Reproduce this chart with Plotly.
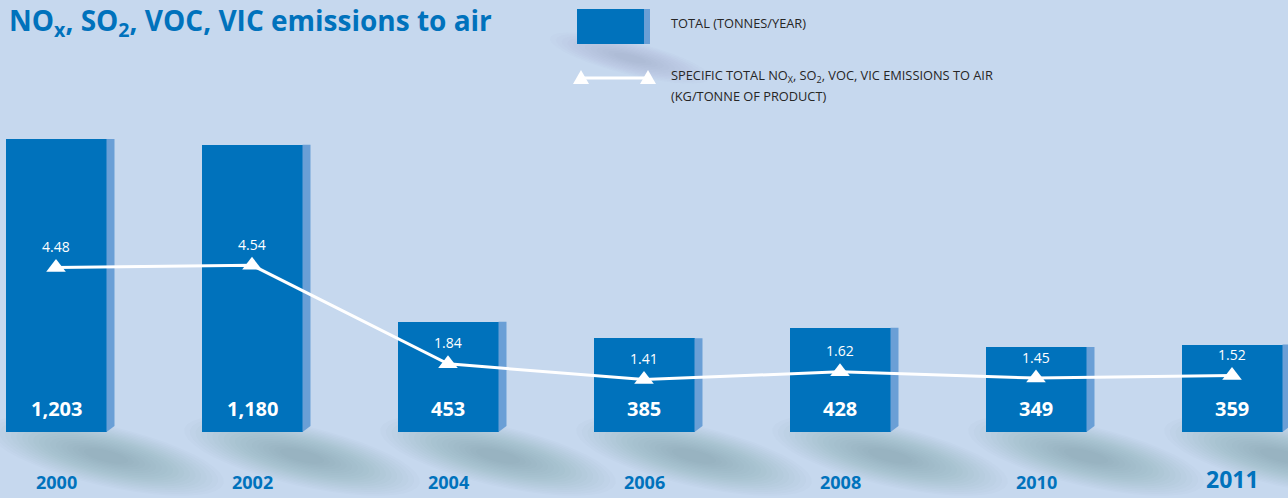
import math
import plotly.graph_objects as go

years = ['2000', '2002', '2004', '2006', '2008', '2010', '2011']
total_tonnes = [1203, 1180, 453, 385, 428, 349, 359]
specific_kg = [4.48, 4.54, 1.84, 1.41, 1.62, 1.45, 1.52]

W, H = 1288, 498
BG = '#c6d8ee'
BLUE = '#0072bc'
SIDE = '#6a9fd6'
SHADOW = '#5f6e86'
FONT = 'Open Sans'

xs = list(range(len(years)))
step = 196          # px between bar centres
x0px = 56           # px of first bar centre
base_px = 432       # px of the bars' baseline
bar_w = 101 / step
side_w = 8 / step


def ellipse_path(cx, cy, a, b, ang):
    # rotated ellipse in pixel space -> paper coords
    pts = []
    for k in range(40):
        t = 2 * math.pi * k / 40
        ex, ey = a * math.cos(t), b * math.sin(t)
        x = cx + ex * math.cos(ang) - ey * math.sin(ang)
        y = cy + ex * math.sin(ang) + ey * math.cos(ang)
        pts.append(f'{x / W:.5f},{1 - y / H:.5f}')
    return 'M ' + ' L '.join(pts) + ' Z'


fig = go.Figure()

shapes = []
# soft shadows under bars
for i in xs:
    cx = x0px + step * i + 50
    for k in range(18):
        s = 1.15 - k * 0.055
        shapes.append(dict(type='path', xref='paper', yref='paper', layer='below',
                           path=ellipse_path(cx, base_px + 24, 105 * s, 26 * s, math.radians(13)),
                           fillcolor=SHADOW, opacity=0.024, line_width=0))
# legend shadow
for k in range(12):
    s = 1.1 - k * 0.08
    shapes.append(dict(type='path', xref='paper', yref='paper', layer='below',
                       path=ellipse_path(630, 58, 75 * s, 15 * s, math.radians(14)),
                       fillcolor=SHADOW, opacity=0.018, line_width=0))

# legend box + side
shapes.append(dict(type='rect', xref='paper', yref='paper', x0=577 / W, x1=644 / W,
                   y0=1 - 44 / H, y1=1 - 9 / H, fillcolor=BLUE, line_width=0))
shapes.append(dict(type='rect', xref='paper', yref='paper', x0=644 / W, x1=650 / W,
                   y0=1 - 44 / H, y1=1 - 9 / H, fillcolor=SIDE, line_width=0))
# legend line with triangles
shapes.append(dict(type='line', xref='paper', yref='paper', x0=582 / W, x1=647 / W,
                   y0=1 - 78 / H, y1=1 - 78 / H, line=dict(color='white', width=3)))
for tx in [581, 648]:
    shapes.append(dict(type='path', xref='paper', yref='paper', fillcolor='white', line_width=0,
                       path=f'M {(tx - 8) / W},{1 - 84 / H} L {(tx + 8) / W},{1 - 84 / H} L {tx / W},{1 - 70 / H} Z'))

# bar front faces
fig.add_trace(go.Bar(x=xs, y=total_tonnes, width=bar_w, marker=dict(color=BLUE, line_width=0),
                     showlegend=False, hoverinfo='skip'))

# bar side faces
sx, sy = [], []
for i, v in zip(xs, total_tonnes):
    a = i + bar_w / 2
    b = a + side_w
    sx += [a, b, b, a, a, None]
    sy += [v, v, 25, 0, v, None]
fig.add_trace(go.Scatter(x=sx, y=sy, fill='toself', fillcolor=SIDE, mode='none',
                         showlegend=False, hoverinfo='skip'))

# specific emissions line
fig.add_trace(go.Scatter(x=xs, y=specific_kg, yaxis='y2', mode='lines+markers',
                         line=dict(color='white', width=3),
                         marker=dict(symbol='triangle-up', size=17, color='white'),
                         showlegend=False, hoverinfo='skip'))

ann = []
for i, v, t, yr in zip(xs, specific_kg, total_tonnes, years):
    ann.append(dict(x=i, y=v, xref='x', yref='y2', yshift=21, text=f'{v:.2f}', showarrow=False,
                    font=dict(family=FONT, size=14, color='white')))
    ann.append(dict(x=i, y=95, xref='x', yref='y', text=f'<b>{t:,}</b>', showarrow=False,
                    font=dict(family=FONT, size=20, color='white')))
    big = yr == '2011'
    ann.append(dict(x=i, y=-205 if not big else -195, xref='x', yref='y', text=f'<b>{yr}</b>',
                    showarrow=False, font=dict(family=FONT, size=23 if big else 18, color=BLUE)))

ann.append(dict(x=7 / W, y=1 - 22 / H, xref='paper', yref='paper', xanchor='left', yanchor='middle',
                text='<b>NO<sub>x</sub>, SO<sub>2</sub>, VOC, VIC emissions to air</b>', showarrow=False,
                font=dict(family=FONT, size=28, color=BLUE)))
ann.append(dict(x=669 / W, y=1 - 23 / H, xref='paper', yref='paper', xanchor='left', yanchor='middle',
                text='TOTAL (TONNES/YEAR)', showarrow=False, font=dict(family=FONT, size=12.8, color='#262626')))
ann.append(dict(x=669 / W, y=1 - 76 / H, xref='paper', yref='paper', xanchor='left', yanchor='middle',
                text='SPECIFIC TOTAL NO<sub>X</sub>, SO<sub>2</sub>, VOC, VIC EMISSIONS TO AIR',
                showarrow=False, font=dict(family=FONT, size=12.8, color='#262626')))
ann.append(dict(x=669 / W, y=1 - 96 / H, xref='paper', yref='paper', xanchor='left', yanchor='middle',
                text='(KG/TONNE OF PRODUCT)',
                showarrow=False, font=dict(family=FONT, size=12.8, color='#262626')))

px_per_t = 0.2435
px_per_kg = 36.5
fig.update_layout(
    width=W, height=H, margin=dict(l=0, r=0, t=0, b=0),
    paper_bgcolor=BG, plot_bgcolor=BG,
    xaxis=dict(range=[-x0px / step, (W - x0px) / step], visible=False),
    yaxis=dict(range=[-(H - base_px) / px_per_t, base_px / px_per_t], visible=False),
    yaxis2=dict(range=[-(H - 431) / px_per_kg, 431 / px_per_kg], overlaying='y', visible=False),
    shapes=shapes, annotations=ann, bargap=0,
)

# drop the default 8px page margin so the figure fills the window
fig.write_html('out.html', config={'displayModeBar': False},
               post_script="document.body.style.margin='0';document.body.style.background='%s';" % BG)
